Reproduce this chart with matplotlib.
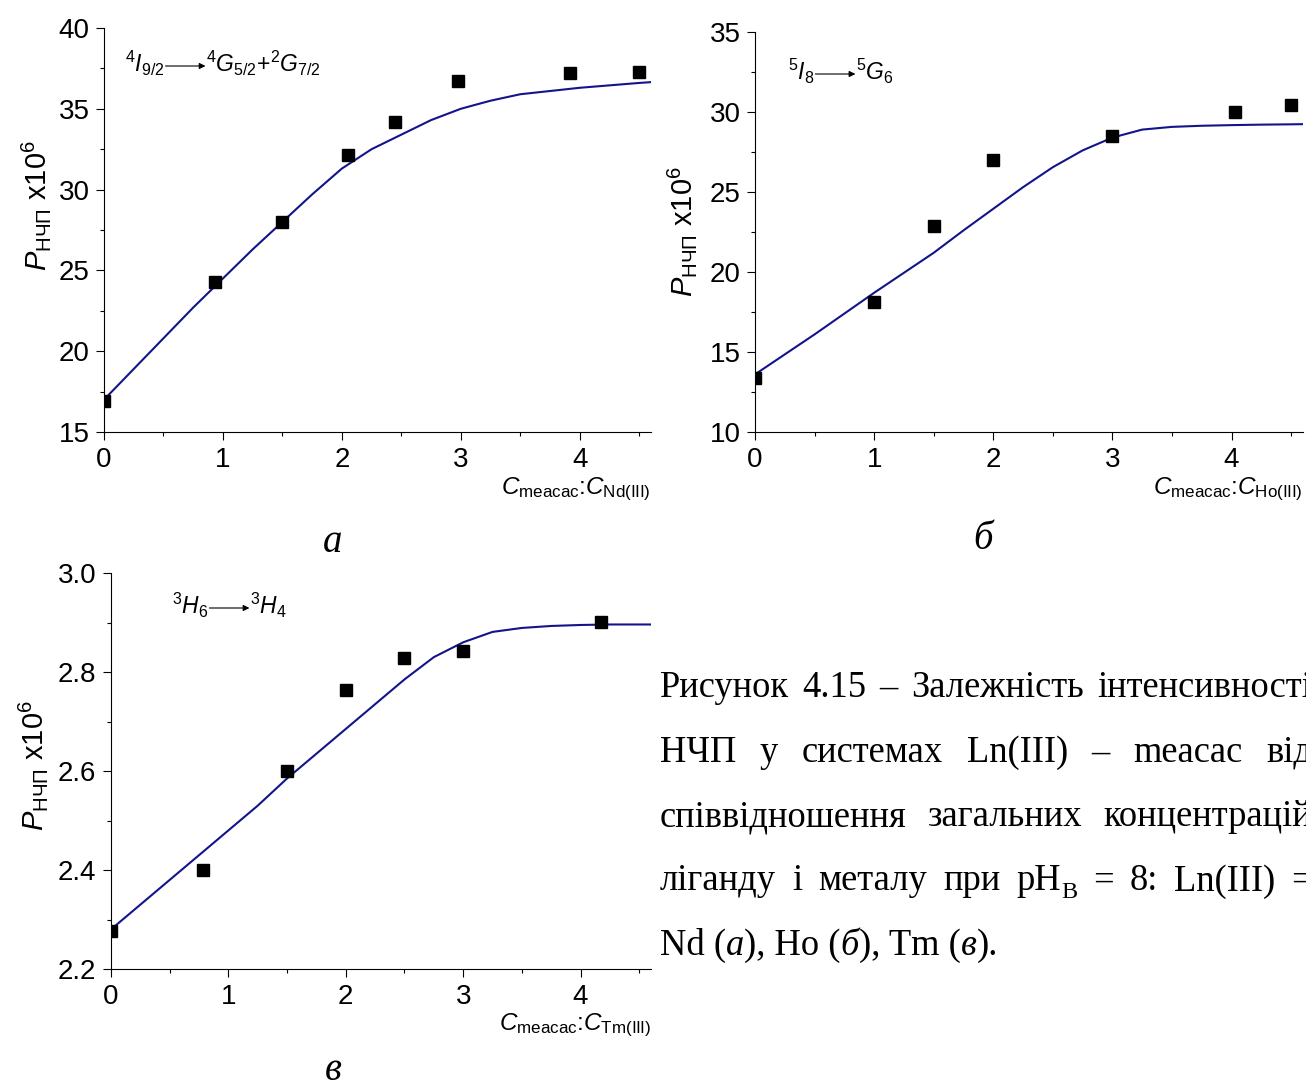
import matplotlib
matplotlib.use("Agg")
import matplotlib.pyplot as plt
from matplotlib.patches import FancyArrowPatch
from matplotlib.ticker import MultipleLocator, FormatStrFormatter
from matplotlib.transforms import IdentityTransform

plt.rcParams.update({
    "font.family": ["Liberation Sans", "DejaVu Sans"],
    "mathtext.fontset": "custom",
    "mathtext.rm": "Liberation Sans",
    "mathtext.it": "Liberation Sans:italic",
    "mathtext.bf": "Liberation Sans:bold",
    "mathtext.sf": "Liberation Sans",
})

# ---- data -------------------------------------------------------------
# ratio C_meacac : C_Ln used for the fitted curves
fit_x = [0, 0.25, 0.5, 0.75, 1.0, 1.25, 1.5, 1.75, 2.0, 2.25, 2.5, 2.75,
         3.0, 3.25, 3.5, 3.75, 4.0, 4.25, 4.5, 4.6]

# Nd(III): 4I9/2 -> 4G5/2 + 2G7/2
x_nd = [0, 0.93, 1.5, 2.05, 2.45, 2.98, 3.92, 4.5]
p_nd = [16.9, 24.3, 28.0, 32.15, 34.2, 36.7, 37.2, 37.3]
fit_nd = [17.0, 18.9, 20.8, 22.7, 24.5, 26.3, 28.0, 29.7, 31.3, 32.5, 33.4,
          34.3, 35.0, 35.5, 35.9, 36.1, 36.3, 36.45, 36.6, 36.65]

# Ho(III): 5I8 -> 5G6
x_ho = [0, 1.0, 1.5, 2.0, 3.0, 4.03, 4.5]
p_ho = [13.4, 18.1, 22.9, 27.0, 28.5, 30.0, 30.45]
fit_ho = [13.6, 14.85, 16.1, 17.4, 18.7, 19.95, 21.2, 22.6, 23.95, 25.3,
          26.55, 27.6, 28.4, 28.9, 29.07, 29.14, 29.18, 29.21, 29.23, 29.24]

# Tm(III): 3H6 -> 3H4
x_tm = [0, 0.78, 1.5, 2.0, 2.5, 3.0, 4.17]
p_tm = [2.277, 2.40, 2.60, 2.764, 2.828, 2.842, 2.901]
fit_tm = [2.28, 2.33, 2.38, 2.43, 2.48, 2.53, 2.585, 2.635, 2.685, 2.735,
          2.785, 2.83, 2.86, 2.881, 2.889, 2.893, 2.895, 2.896, 2.896, 2.896]

x_ticks = [0, 1, 2, 3, 4]
ylabel = r"$\mathit{P}_{\mathrm{НЧП}}$ x10$^{6}$"
xlabels = [r"$\mathit{C}_{\mathrm{meacac}}$:$\mathit{C}_{\mathrm{Nd(III)}}$",
           r"$\mathit{C}_{\mathrm{meacac}}$:$\mathit{C}_{\mathrm{Ho(III)}}$",
           r"$\mathit{C}_{\mathrm{meacac}}$:$\mathit{C}_{\mathrm{Tm(III)}}$"]
trans_left = [r"${}^{4}\mathit{I}_{9/2}$", r"${}^{5}\mathit{I}_{8}$", r"${}^{3}\mathit{H}_{6}$"]
trans_right = [r"${}^{4}\mathit{G}_{5/2}$+${}^{2}\mathit{G}_{7/2}$",
               r"${}^{5}\mathit{G}_{6}$", r"${}^{3}\mathit{H}_{4}$"]
panel_letters = ["а", "б", "в"]

caption_lines = [
    ["Рисунок", "4.15", "–", "Залежність", "інтенсивності"],
    ["НЧП", "у", "системах", "Ln(III)", "–", "meacac", "від"],
    ["співвідношення", "загальних", "концентрацій"],
    ["ліганду", "і", "металу", "при", "pH|B", "=", "8:", "Ln(III)", "="],
]
caption_last = [("Nd (", "normal"), ("а", "italic"), ("), Ho (", "normal"),
                ("б", "italic"), ("), Tm (", "normal"), ("в", "italic"),
                (").", "normal")]

# ---- figure -----------------------------------------------------------
W, H = 1306, 1086
fig = plt.figure(figsize=(W / 100, H / 100), dpi=100)
fig.patch.set_facecolor("white")
renderer = fig.canvas.get_renderer()
PIX = IdentityTransform()


def rect(l, t, r, b):
    return [l / W, 1 - b / H, (r - l) / W, (b - t) / H]


panels = [
    dict(box=rect(104, 28, 651, 432), x=x_nd, y=p_nd, fit=fit_nd, ylim=(15, 40),
         major=5, minor=2.5, fmt="%d", ylab=(-0.125, 0.56), anno=(125, 72),
         letter=(333, 552)),
    dict(box=rect(755, 32, 1303, 432), x=x_ho, y=p_ho, fit=fit_ho, ylim=(10, 35),
         major=5, minor=2.5, fmt="%d", ylab=(-0.133, 0.5), anno=(788, 80),
         letter=(983, 549)),
    dict(box=rect(111, 573, 651, 969), x=x_tm, y=p_tm, fit=fit_tm, ylim=(2.2, 3.0),
         major=0.2, minor=0.1, fmt="%.1f", ylab=(-0.145, 0.515), anno=(172, 614),
         letter=(333, 1080)),
]

curve_color = "#14148a"

for i, p in enumerate(panels):
    ax = fig.add_axes(p["box"])
    ax.plot(fit_x, p["fit"], color=curve_color, lw=1.5, zorder=2)
    ax.plot(p["x"], p["y"], ls="none", marker="s", ms=8.5, color="black", zorder=3)
    ax.set_xlim(0, 4.6)
    ax.set_ylim(*p["ylim"])
    ax.set_xticks(x_ticks)
    ax.xaxis.set_minor_locator(MultipleLocator(0.5))
    ax.yaxis.set_major_locator(MultipleLocator(p["major"]))
    ax.yaxis.set_minor_locator(MultipleLocator(p["minor"]))
    ax.yaxis.set_major_formatter(FormatStrFormatter(p["fmt"]))
    for side in ("top", "right"):
        ax.spines[side].set_visible(False)
    for side in ("left", "bottom"):
        ax.spines[side].set_linewidth(0.8)
    ax.tick_params(which="major", direction="out", length=5.5, width=0.8,
                   labelsize=20, pad=5)
    ax.tick_params(which="minor", direction="out", length=3, width=0.8)

    ax.text(p["ylab"][0], p["ylab"][1], ylabel, transform=ax.transAxes,
            rotation=90, ha="center", va="center", fontsize=21)
    ax.text(1.0, -0.143, xlabels[i], transform=ax.transAxes,
            ha="right", va="center", fontsize=17.5)

    # transition label: left term, arrow, right term
    ax0, by = p["anno"]
    t1 = fig.text(ax0, H - by, trans_left[i], transform=PIX, fontsize=16.5,
                  ha="left", va="baseline")
    e1 = t1.get_window_extent(renderer=renderer)
    ya = H - by + 6
    xa0 = e1.x1 + 1
    xa1 = xa0 + 40
    fig.add_artist(FancyArrowPatch(
        (xa0, ya), (xa1, ya), transform=PIX, arrowstyle="-|>",
        mutation_scale=9, lw=0.8, color="black", shrinkA=0, shrinkB=0))
    fig.text(xa1 + 1, H - by, trans_right[i], transform=PIX, fontsize=16.5,
             ha="left", va="baseline")

    lx, ly = p["letter"]
    fig.text(lx, H - ly, panel_letters[i], transform=PIX, fontsize=28,
             family="Liberation Serif", style="italic", ha="center", va="baseline")

# ---- caption ----------------------------------------------------------
CAP_SIZE = 26.3
SUB_SIZE = 17.5


def word_runs(word):
    if "|" in word:
        base, sub = word.split("|")
        return [(base, "normal", CAP_SIZE, 0), (sub, "normal", SUB_SIZE, -7)]
    return [(word, "normal", CAP_SIZE, 0)]


def make_runs(runs, y):
    items = []
    for s, style, size, dy in runs:
        t = fig.text(0, y + dy, s, transform=PIX, fontsize=size,
                     family="Liberation Serif", style=style,
                     ha="left", va="baseline")
        w = t.get_window_extent(renderer=renderer).width
        items.append((t, w, dy))
    return items


x_left, x_right = 660, 1312
baselines = [697, 761.5, 826, 890.5, 955]

for words, base in zip(caption_lines, baselines[:4]):
    y = H - base
    built = [make_runs(word_runs(w), y) for w in words]
    widths = [sum(w for _, w, _ in b) for b in built]
    gap = max((x_right - x_left - sum(widths)) / (len(words) - 1), 7)
    x = x_left
    for b, wd in zip(built, widths):
        xc = x
        for t, w, dy in b:
            t.set_position((xc, y + dy))
            xc += w
        x += wd + gap

y = H - baselines[4]
x = x_left
for t, w, dy in make_runs([(s, st, CAP_SIZE, 0) for s, st in caption_last], y):
    t.set_position((x, y + dy))
    x += w

fig.savefig("out.png", dpi=100, facecolor="white")
